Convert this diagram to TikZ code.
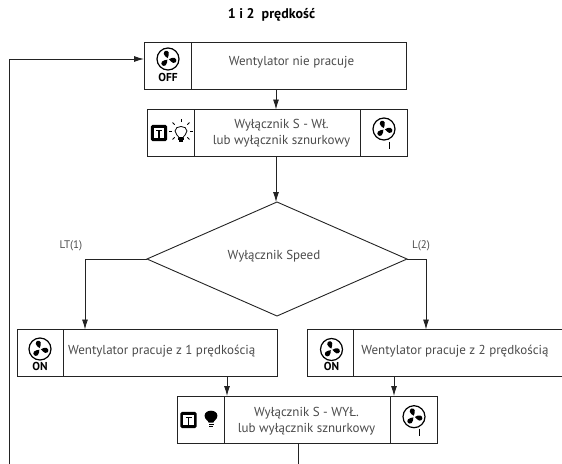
\documentclass[tikz,border=0pt]{standalone}
\usepackage{fontspec}
\setmainfont{PT Sans}
\usetikzlibrary{arrows.meta,calc,shapes.geometric}
\definecolor{ln}{RGB}{35,35,35}
\definecolor{tx}{RGB}{75,75,75}
\tikzset{
  x=1pt,y=-1pt,
  box/.style={draw=ln,line width=0.9pt,rectangle,inner sep=0,outer sep=0,anchor=north west,minimum height=47pt},
  lbl/.style={text=tx,font=\fontsize{13}{16.5}\selectfont,align=center,inner sep=0},
  caplabel/.style={text=tx,font=\fontsize{11}{12}\selectfont,inner sep=0},
  onoff/.style={text=black,font=\fontsize{11.5}{12}\selectfont\bfseries,inner sep=0},
  flow/.style={draw=ln,line width=0.9pt,-{Latex[length=10pt,width=6pt]}},
  plain/.style={draw=ln,line width=0.9pt},
  pics/fan/.style={code={
    \draw[black,line width=1.2pt] (0,0) circle (11);
    \foreach \a in {105,345,225}{
      \fill[black,rotate=\a] (1,0) .. controls (2.5,-1) and (3.5,-3) .. (6,-2.8)
        .. controls (9.4,-2.2) and (9.4,2) .. (6,2.4) .. controls (3.8,2.2) and (2.5,0.9) .. (1,0) -- cycle;
    }
  }},
  pics/switchicon/.style={code={
    \fill[black,rounded corners=1.8pt] (-8.2,-8.2) rectangle (8.2,8.2);
    \fill[white] (-5.2,-5) rectangle (5.2,5.4);
    \draw[black,line width=1.1pt] (-3,-2.8) -- (3,-2.8);
    \draw[black,line width=1.4pt] (0,-2.8) -- (0,5.4);
  }},
  pics/bulb/.style={code={
    \fill[black] (-2.4,3.5) .. controls (-2.6,1.5) and (-6.4,0.5) .. (-6.4,-3.2)
      .. controls (-6.4,-10) and (6.4,-10) .. (6.4,-3.2)
      .. controls (6.4,0.5) and (2.6,1.5) .. (2.4,3.5) -- cycle;
    \fill[black] (-2.5,4.5) rectangle (2.5,5.9);
    \fill[black] (-1.7,6.8) rectangle (1.7,8.2);
  }},
  pics/bulbon/.style={code={
    \draw[black,line width=0.8pt] (-2.2,3.6) .. controls (-2.4,1.8) and (-6,0.3) .. (-6,-3)
      .. controls (-6,-9) and (6,-9) .. (6,-3)
      .. controls (6,0.3) and (2.4,1.8) .. (2.2,3.6) -- cycle;
    \fill[black] (-2.6,4.3) rectangle (2.6,5.6);
    \fill[black] (-1.7,6.2) rectangle (1.7,7.8);
    \foreach \a in {0,45,135,180,225,270,315}{
      \draw[black,line width=0.8pt] ($(0,-3)+(\a:9)$) -- ($(0,-3)+(\a:12)$);
    }
  }}
}
\begin{document}
\begin{tikzpicture}
\useasboundingbox (0,0) rectangle (562,463);
\clip (0,0) rectangle (562,463);
\node[text=black,font=\fontsize{14}{16}\selectfont\bfseries,inner sep=0] (title) at (271.5,14.5) {1 i 2 \ prędkość};

% boxes
\node[box,minimum width=262pt] (b1) at (144,42) {};
\node[box,minimum width=260pt] (b2) at (147,109.5) {};
\node[draw=ln,line width=0.9pt,diamond,inner sep=0,outer sep=0,shape aspect=2.28,minimum width=260pt,minimum height=114pt] (d) at (277,259) {};
\node[box,minimum width=260pt] (b3) at (17,329.5) {};
\node[box,minimum width=260pt] (b4) at (307,329.5) {};
\node[box,minimum width=260pt] (b5) at (177,396) {};

% dividers
\draw[plain] (191.5,0 |- b1.north) -- (191.5,0 |- b1.south);
\draw[plain] (194,0 |- b2.north) -- (194,0 |- b2.south);
\draw[plain] (360,0 |- b2.north) -- (360,0 |- b2.south);
\draw[plain] (63,0 |- b3.north) -- (63,0 |- b3.south);
\draw[plain] (353,0 |- b4.north) -- (353,0 |- b4.south);
\draw[plain] (224,0 |- b5.north) -- (224,0 |- b5.south);
\draw[plain] (390,0 |- b5.north) -- (390,0 |- b5.south);

% texts
\node[lbl] (t1) at (291.5,62) {Wentylator nie pracuje};
\node[lbl] (t2) at (281.5,133) {Wyłącznik S - Wł.\\lub wyłącznik sznurkowy};
\node[lbl] (t3) at (161.7,351.5) {Wentylator pracuje z 1 prędkością};
\node[lbl] (t4) at (455,351.5) {Wentylator pracuje z 2 prędkością};
\node[lbl] (t5) at (306.5,421) {Wyłącznik S - WYŁ.\\lub wyłącznik sznurkowy};
\node[lbl] (t6) at (274,256) {Wyłącznik Speed};
\node[caplabel] (lt) at (71,246) {LT(1)};
\node[caplabel] (l2) at (421,246) {L(2)};

% coordinates of connectors
\coordinate (lA) at (85,259);
\coordinate (rA) at (426,259);
\coordinate (o3) at (227,376.5);
\coordinate (o4) at (394,376.5);
\coordinate (o5) at (298,443);
\coordinate (endA) at (298,470);
\coordinate (endB) at (9,470);
\coordinate (backA) at (9,59);

\draw[flow] (b1.south -| 276,0) -- (b2.north -| 276,0);
\draw[flow] (b2.south -| 276,0) -- (d.north -| 276,0);
\draw[flow] (d.west) -- (lA) -- (lA |- b3.north);
\draw[flow] (d.east) -- (rA) -- (rA |- b4.north);
\draw[flow] (o3) -- (o3 |- b5.north);
\draw[flow] (o4) -- (o4 |- b5.north);
\draw[plain] (o5) -- (endA);
\draw[flow] (endB) -- (backA) -- (backA -| b1.west);

% icons
\pic at (168,59) {fan};
\node[onoff] (off) at (168,77.7) {OFF};
\pic at (159,133) {switchicon};
\pic at (181,134) {bulbon};
\pic at (384,129) {fan};
\draw[plain,draw=black] (389.5,141.5) -- (389.5,149);

\pic at (40,349) {fan};
\node[onoff] (on3) at (40,366.7) {ON};
\pic at (331.5,349.5) {fan};
\node[onoff] (on4) at (331.5,366.7) {ON};

\pic at (188.5,420) {switchicon};
\pic at (211,419) {bulb};
\pic at (414,416.7) {fan};
\draw[plain,draw=black] (419.5,428.5) -- (419.5,436);
\end{tikzpicture}
\end{document}
